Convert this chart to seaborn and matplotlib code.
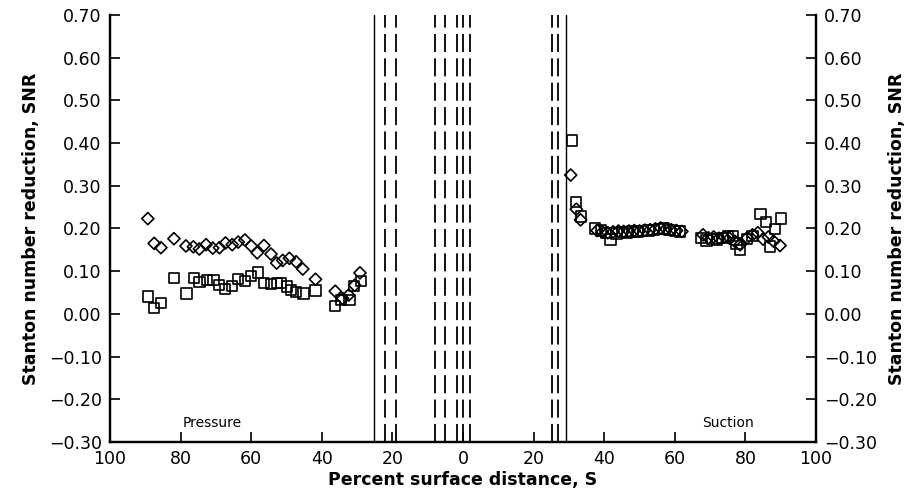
import numpy as np
import pandas as pd
import seaborn as sns
import matplotlib.pyplot as plt
from matplotlib.ticker import FuncFormatter

# pressure side is plotted at negative S, labels show |S|
p_sq_x = [-89.3, -87.5, -85.6, -81.9, -78.3, -76.2, -74.7, -72.6, -70.7, -69.2, -67.5, -65.4,
          -63.7, -61.8, -60.0, -58.1, -56.4, -54.5, -52.8, -51.6, -49.9, -48.8, -47.3, -45.2,
          -41.8, -36.3, -34.5, -32.2, -30.9, -29.0]
p_sq_y = [0.041, 0.013, 0.025, 0.084, 0.048, 0.084, 0.075, 0.080, 0.080, 0.067, 0.059, 0.066,
          0.081, 0.077, 0.088, 0.097, 0.072, 0.070, 0.072, 0.072, 0.064, 0.056, 0.052, 0.048,
          0.055, 0.018, 0.033, 0.033, 0.066, 0.077]
p_dm_x = [-89.3, -87.5, -85.6, -81.9, -78.5, -76.4, -74.7, -72.8, -70.9, -69.0, -67.3, -65.4,
          -63.7, -61.8, -60.0, -58.3, -56.4, -54.4, -52.8, -51.1, -49.2, -47.3, -45.4, -41.8,
          -36.2, -34.1, -32.4, -30.7, -29.2]
p_dm_y = [0.223, 0.165, 0.155, 0.176, 0.159, 0.157, 0.152, 0.162, 0.154, 0.155, 0.166, 0.162,
          0.168, 0.173, 0.159, 0.143, 0.160, 0.140, 0.119, 0.125, 0.130, 0.122, 0.105, 0.081,
          0.053, 0.036, 0.044, 0.067, 0.096]

s_sq_x = [30.8, 32.0, 33.5, 37.4, 39.0, 40.5, 41.8, 43.5, 45.0, 46.5, 48.0, 49.5, 51.0, 52.5,
          54.0, 55.5, 57.0, 58.5, 60.0, 61.5, 67.5, 69.0, 70.5, 72.0, 73.5, 75.0, 76.5, 77.5,
          78.5, 80.5, 82.0, 84.3, 85.8, 87.0, 88.4, 90.0]
s_sq_y = [0.406, 0.262, 0.228, 0.200, 0.195, 0.190, 0.174, 0.188, 0.192, 0.190, 0.193, 0.192,
          0.194, 0.195, 0.196, 0.198, 0.200, 0.196, 0.194, 0.193, 0.178, 0.172, 0.176, 0.174,
          0.178, 0.181, 0.183, 0.165, 0.150, 0.175, 0.183, 0.233, 0.215, 0.158, 0.198, 0.223]
s_dm_x = [30.5, 32.1, 33.3, 38.0, 39.5, 41.0, 42.5, 44.0, 45.5, 47.0, 48.5, 50.0, 51.5, 53.0,
          54.5, 56.0, 57.5, 59.0, 60.5, 62.0, 68.0, 69.5, 71.0, 72.5, 74.0, 75.5, 77.0, 78.5,
          80.5, 82.0, 83.5, 85.0, 86.5, 88.0, 89.8]
s_dm_y = [0.325, 0.245, 0.220, 0.195, 0.192, 0.190, 0.192, 0.194, 0.193, 0.194, 0.195, 0.194,
          0.196, 0.197, 0.199, 0.201, 0.199, 0.197, 0.195, 0.193, 0.185, 0.178, 0.180, 0.177,
          0.180, 0.177, 0.170, 0.162, 0.178, 0.185, 0.190, 0.175, 0.180, 0.170, 0.160]

solid_lines = [-25.1, 29.1]
dashed_lines = [-22.0, -18.9, -7.9, -5.1, -1.7, 0.0, 2.0, 25.1, 26.8]

x_ticks = [-100, -80, -60, -40, -20, 0, 20, 40, 60, 80, 100]
y_ticks = [-0.30, -0.20, -0.10, 0.00, 0.10, 0.20, 0.30, 0.40, 0.50, 0.60, 0.70]

sq = pd.DataFrame({"S": p_sq_x + s_sq_x, "SNR": p_sq_y + s_sq_y})
dm = pd.DataFrame({"S": p_dm_x + s_dm_x, "SNR": p_dm_y + s_dm_y})

sns.set_style("ticks")
plt.rcParams['font.family'] = ['DejaVu Sans']
plt.rcParams.update({"text.color": "black", "axes.labelcolor": "black",
                     "xtick.color": "black", "ytick.color": "black",
                     "axes.edgecolor": "black"})

fig = plt.figure(figsize=(9.14, 4.95), dpi=100)
ax = fig.add_axes([0.1204, 0.107, 0.7724, 0.863])

for xv in solid_lines:
    ax.axvline(xv, color="black", lw=1.0, zorder=1)
for xv in dashed_lines:
    ax.axvline(xv, color="black", lw=1.3, dashes=(10, 3.5), zorder=1)

sns.scatterplot(data=sq, x="S", y="SNR", marker="s", s=55, facecolor="none",
                edgecolor="black", linewidth=1.2, ax=ax, zorder=3)
sns.scatterplot(data=dm, x="S", y="SNR", marker="D", s=38, facecolor="none",
                edgecolor="black", linewidth=1.2, ax=ax, zorder=3)

fmt_y = FuncFormatter(lambda v, p: f"{v:.2f}".replace("-", "\u2212"))

ax.set_xlim(-100, 100)
ax.set_ylim(-0.30, 0.70)
ax.set_xticks(x_ticks)
ax.xaxis.set_major_formatter(FuncFormatter(lambda v, p: f"{abs(v):.0f}"))
ax.set_yticks(y_ticks)
ax.yaxis.set_major_formatter(fmt_y)
ax.tick_params(direction="in", length=7, width=1.2, labelsize=12.5, pad=6)
ax.set_xlabel("Percent surface distance, S", fontsize=12.5, fontweight="bold", labelpad=2)
ax.set_ylabel("Stanton number reduction, SNR", fontsize=12.5, fontweight="bold", labelpad=6)

ax2 = ax.twinx()
ax2.set_ylim(-0.30, 0.70)
ax2.set_yticks(y_ticks)
ax2.yaxis.set_major_formatter(fmt_y)
ax2.tick_params(direction="in", length=7, width=1.2, labelsize=12.5, pad=6)
ax2.set_ylabel("Stanton number reduction, SNR", fontsize=12.5, fontweight="bold", labelpad=8)

for a in (ax, ax2):
    a.spines["top"].set_visible(False)
    for side in ("left", "right", "bottom"):
        a.spines[side].set_linewidth(1.6)

ax.text(-71, -0.255, "Pressure", fontsize=10, ha="center", va="center")
ax.text(75, -0.255, "Suction", fontsize=10, ha="center", va="center")

fig.savefig("out.png", dpi=100)
